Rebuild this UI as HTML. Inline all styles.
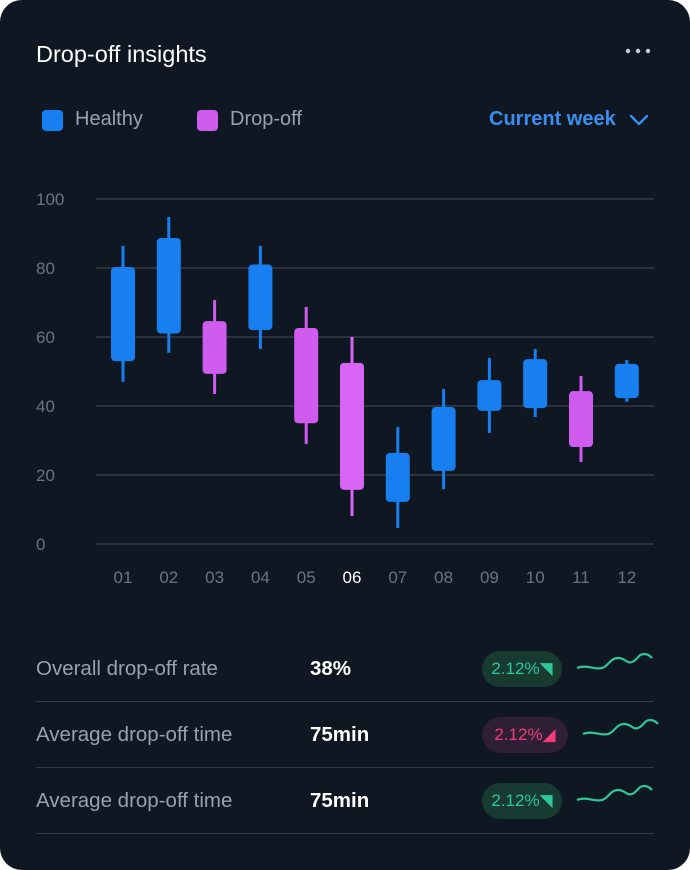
<!DOCTYPE html>
<html><head><meta charset="utf-8"><style>
html,body{margin:0;padding:0;background:#fff;}
body{width:690px;height:870px;position:relative;font-family:"Liberation Sans",sans-serif;overflow:hidden;}
#card{position:absolute;left:0;top:0;width:690px;height:870px;background:#0e1722;border-radius:22px;}
.t{position:absolute;white-space:nowrap;}
.sq{position:absolute;width:21px;height:21px;border-radius:4px;}
.row{position:absolute;left:36px;width:618px;height:1px;background:#343b45;}
.lbl{color:#9aa1ab;font-size:20.5px;}
.val{color:#fff;font-size:20.5px;font-weight:bold;}
.pill{position:absolute;width:80px;height:36px;border-radius:18px;font-size:17px;line-height:36px;text-align:center;}
</style></head><body>
<div id="card">
<div class="t" style="left:36px;top:41px;color:#fff;font-size:23.5px;">Drop-off insights</div>
<svg style="position:absolute;left:624px;top:46px" width="30" height="10"><circle cx="4" cy="5" r="2.2" fill="#c9ced6"/><circle cx="14" cy="5" r="2.2" fill="#c9ced6"/><circle cx="24" cy="5" r="2.2" fill="#c9ced6"/></svg>
<div class="sq" style="left:42px;top:110px;background:#177ff0;"></div>
<div class="t" style="left:75px;top:108px;color:#9aa1ab;font-size:20px;">Healthy</div>
<div class="sq" style="left:197px;top:110px;background:#d05bef;"></div>
<div class="t" style="left:230px;top:108px;color:#9aa1ab;font-size:20px;">Drop-off</div>
<div class="t" style="left:489px;top:108px;color:#3b8ef0;font-size:20px;font-weight:bold;">Current week</div>
<svg style="position:absolute;left:629px;top:113px" width="20" height="14"><path d="M2 3 L10 11 L18 3" stroke="#3b8ef0" stroke-width="2.4" fill="none" stroke-linecap="round" stroke-linejoin="round"/></svg>
<svg id="chart" style="position:absolute;left:0;top:0" width="690" height="600"></svg>

<div class="t lbl" style="left:36px;top:657px">Overall drop-off rate</div>
<div class="t val" style="left:310px;top:657px">38%</div>
<div class="pill" style="left:482px;top:651px;background:#173a31;color:#2fc79a;">2.12%◥</div>
<div class="row" style="top:701px"></div>
<div class="t lbl" style="left:36px;top:723px">Average drop-off time</div>
<div class="t val" style="left:310px;top:723px">75min</div>
<div class="pill" style="left:482px;top:717px;width:86px;background:#2e1f34;color:#ee3d7a;">2.12%◢</div>
<div class="row" style="top:767px"></div>
<div class="t lbl" style="left:36px;top:789px">Average drop-off time</div>
<div class="t val" style="left:310px;top:789px">75min</div>
<div class="pill" style="left:482px;top:783px;background:#173a31;color:#2fc79a;">2.12%◥</div>
<div class="row" style="top:833px"></div>

<svg style="position:absolute;left:576px;top:652px" width="80" height="36"><path d="M1 16 C10 12 18 18 26 16 C32 15 34 6 42 6 C50 6 50 12 56 10 C62 8 62 2 68 2 C72 2 74 4 76 6" stroke="#2fc79a" stroke-width="2.2" fill="none"/></svg>
<svg style="position:absolute;left:582px;top:718px" width="80" height="36"><path d="M1 16 C10 12 18 18 26 16 C32 15 34 6 42 6 C50 6 50 12 56 10 C62 8 62 2 68 2 C72 2 74 4 76 6" stroke="#2fc79a" stroke-width="2.2" fill="none"/></svg>
<svg style="position:absolute;left:576px;top:784px" width="80" height="36"><path d="M1 16 C10 12 18 18 26 16 C32 15 34 6 42 6 C50 6 50 12 56 10 C62 8 62 2 68 2 C72 2 74 4 76 6" stroke="#2fc79a" stroke-width="2.2" fill="none"/></svg>
</div>
<script>
const categories=["01","02","03","04","05","06","07","08","09","10","11","12"];
const openVals=[53,61,64.6,62,62.6,52.5,12.2,21.2,38.6,39.4,44.3,42.3];
const closeVals=[80.3,88.7,49.3,81,35,15.7,26.4,39.7,47.5,53.6,28.1,52.2];
const highVals=[86.4,94.8,70.7,86.4,68.7,60,33.9,44.9,53.9,56.5,48.7,53.3];
const lowVals=[47,55.4,43.5,56.5,29,8.1,4.6,15.9,32.2,36.8,23.8,41.2];
const yTicks=[0,20,40,60,80,100];
const svg=document.getElementById('chart');
const NS='http://www.w3.org/2000/svg';
const y=v=>544-v*3.45;
const x=i=>123+i*45.8;
function mk(tag,attrs){const e=document.createElementNS(NS,tag);for(const k in attrs)e.setAttribute(k,attrs[k]);svg.appendChild(e);return e;}
yTicks.forEach(t=>{
  const l=mk('line',{x1:96,x2:654,y1:y(t),y2:y(t),stroke:'#353c46','stroke-width':1.5});
  
  
  const tx=mk('text',{x:36,y:y(t)+6,fill:'#6b7380','font-size':17,'font-family':'Liberation Sans, sans-serif'});
  tx.textContent=t;
  
  
});
categories.forEach((c,i)=>{
  const o=openVals[i],cl=closeVals[i];
  const col=cl>=o?'#177ff0':(i===5?'#d864f5':'#d05bef');
  const w=mk('rect',{x:x(i)-1.5,y:y(highVals[i]),width:3,height:y(lowVals[i])-y(highVals[i]),fill:col});
  
  
  const top=Math.max(o,cl),bot=Math.min(o,cl);
  const b=mk('rect',{x:x(i)-12,y:y(top),width:24,height:y(bot)-y(top),rx:4,fill:col});
  
  
  const t=mk('text',{x:x(i),y:583,fill:i===5?'#ffffff':'#6b7380','font-size':17,'text-anchor':'middle','font-family':'Liberation Sans, sans-serif'});
  t.textContent=c;
  
  
});
</script>
</body></html>
